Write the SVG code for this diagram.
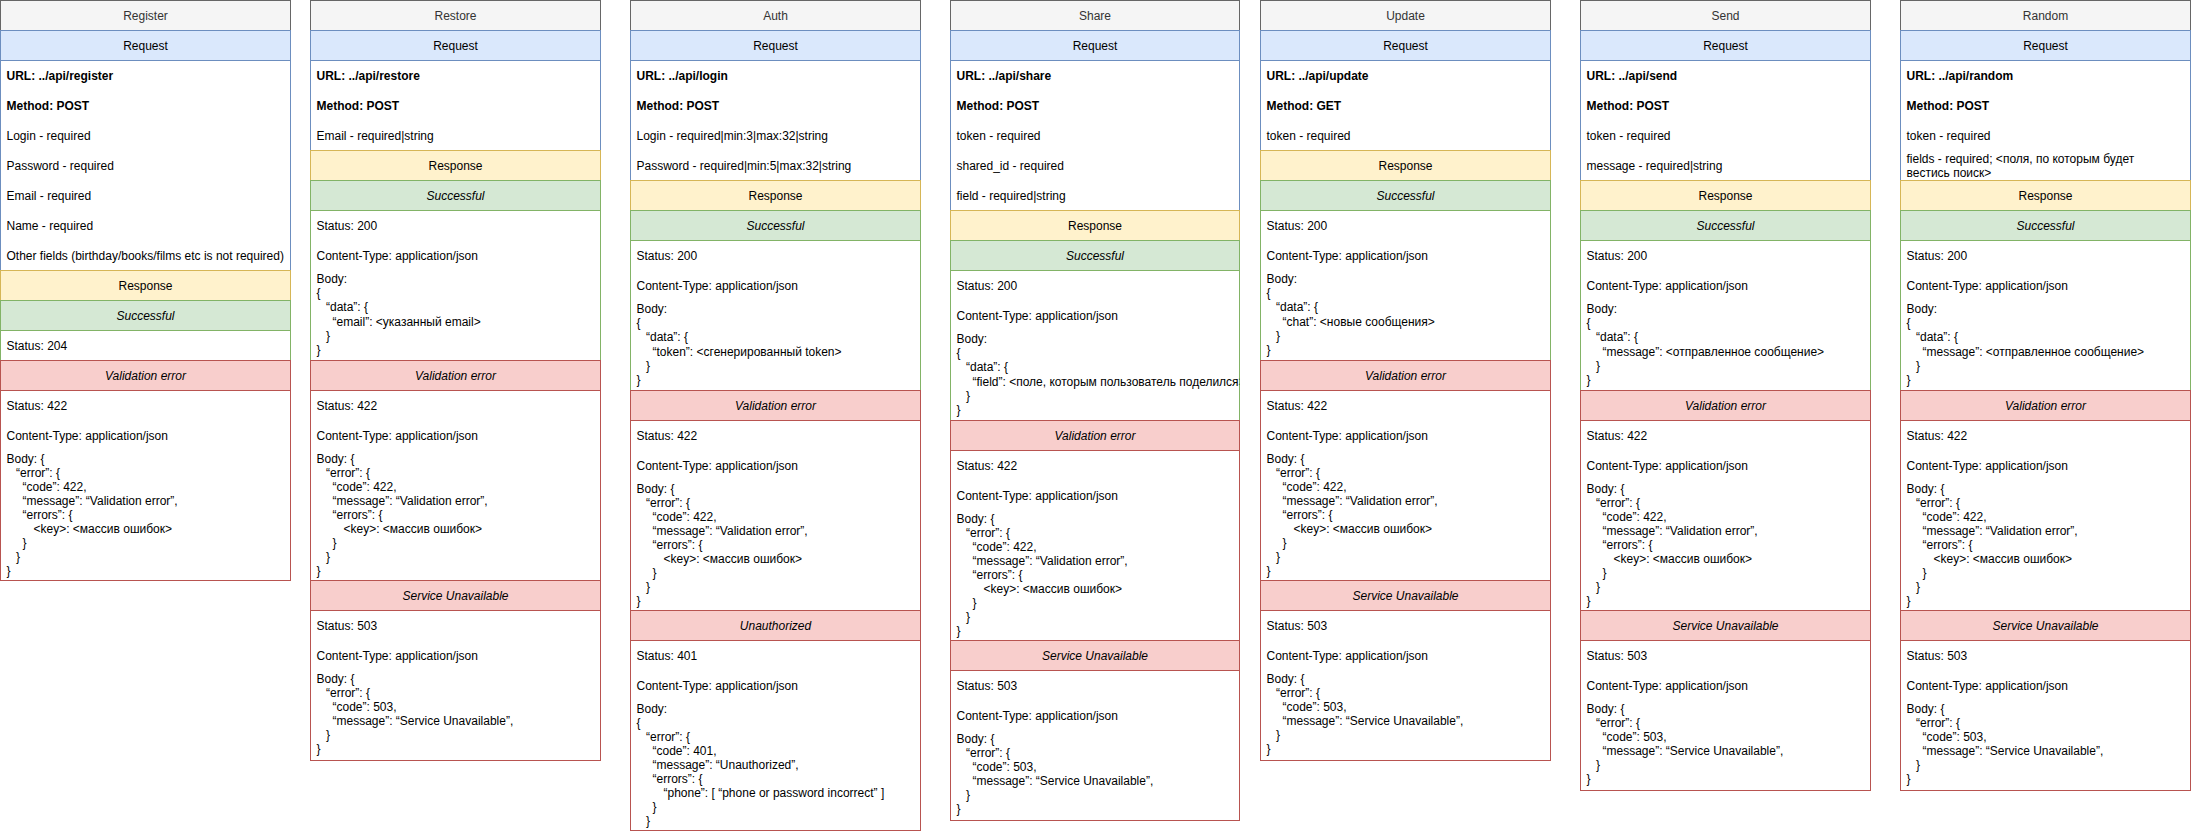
<svg xmlns="http://www.w3.org/2000/svg" width="2191" height="831" viewBox="0 0 2191 831">
<style>
text{font-family:"Liberation Sans",Arial,Helvetica,sans-serif;font-size:12px;fill:#000000}
.c{text-anchor:middle}
.i{font-style:italic}
.b{font-weight:bold}
.hd{fill:#333333}
rect{stroke-width:1}
.ttl{fill:#f5f5f5;stroke:#666666}
.rq{fill:#dae8fc;stroke:#6c8ebf}
.rqb{fill:#ffffff;stroke:#6c8ebf}
.rs{fill:#fff2cc;stroke:#d6b656}
.ok{fill:#d5e8d4;stroke:#82b366}
.okb{fill:#ffffff;stroke:#82b366}
.er{fill:#f8cecc;stroke:#b85450}
.erb{fill:#ffffff;stroke:#b85450}
</style>
<defs>
<clipPath id="shareClip"><rect x="0" y="270" width="289" height="150"/></clipPath>
</defs>
<rect x="0" y="0" width="2191" height="831" fill="#ffffff"/>
<g id="connectors"/>

<g id="register" transform="translate(0.5,0)">
<rect class="ttl" x="0" y="0.5" width="290" height="30"/><text class="c hd" x="145" y="20">Register</text>
<rect class="rq" x="0" y="30.5" width="290" height="30"/><text class="c" x="145" y="50">Request</text>
<rect class="rqb" x="0" y="60.5" width="290" height="210"/>
<text class="b" x="6" y="80">URL: ../api/register</text>
<text class="b" x="6" y="110">Method: POST</text>
<text x="6" y="140">Login - required</text>
<text x="6" y="170">Password - required</text>
<text x="6" y="200">Email - required</text>
<text x="6" y="230">Name - required</text>
<text x="6" y="260">Other fields (birthday/books/films etc is not required)</text>
<rect class="rs" x="0" y="270.5" width="290" height="30"/><text class="c" x="145" y="290">Response</text>
<rect class="ok" x="0" y="300.5" width="290" height="30"/><text class="c i" x="145" y="320">Successful</text>
<rect class="okb" x="0" y="330.5" width="290" height="30"/><text x="6" y="350">Status: 204</text>
<rect class="er" x="0" y="360.5" width="290" height="30"/><text class="c i" x="145" y="380">Validation error</text>
<rect class="erb" x="0" y="390.5" width="290" height="190"/>
<text x="6" y="410">Status: 422</text>
<text x="6" y="440">Content-Type: application/json</text>
<text x="6" y="463">Body: {</text>
<text x="15.5" y="477">“error”: {</text>
<text x="22" y="491">“code”: 422,</text>
<text x="22" y="505">“message”: “Validation error”,</text>
<text x="22" y="519">“errors”: {</text>
<text x="33" y="533">&lt;key&gt;: &lt;массив ошибок&gt;</text>
<text x="22" y="547">}</text>
<text x="15.5" y="561">}</text>
<text x="6" y="575">}</text>
</g>

<g id="restore" transform="translate(310.5,0)">
<rect class="ttl" x="0" y="0.5" width="290" height="30"/><text class="c hd" x="145" y="20">Restore</text>
<rect class="rq" x="0" y="30.5" width="290" height="30"/><text class="c" x="145" y="50">Request</text>
<rect class="rqb" x="0" y="60.5" width="290" height="90"/>
<text class="b" x="6" y="80">URL: ../api/restore</text>
<text class="b" x="6" y="110">Method: POST</text>
<text x="6" y="140">Email - required|string</text>
<rect class="rs" x="0" y="150.5" width="290" height="30"/><text class="c" x="145" y="170">Response</text>
<rect class="ok" x="0" y="180.5" width="290" height="30"/><text class="c i" x="145" y="200">Successful</text>
<rect class="okb" x="0" y="210.5" width="290" height="150"/>
<text x="6" y="230">Status: 200</text>
<text x="6" y="260">Content-Type: application/json</text>
<text x="6" y="283">Body:</text>
<text x="6" y="297.2">{</text>
<text x="15.5" y="311.4">“data”: {</text>
<text x="22" y="325.6">“email”: &lt;указанный email&gt;</text>
<text x="15.5" y="339.8">}</text>
<text x="6" y="354">}</text>
<rect class="er" x="0" y="360.5" width="290" height="30"/><text class="c i" x="145" y="380">Validation error</text>
<rect class="erb" x="0" y="390.5" width="290" height="190"/>
<text x="6" y="410">Status: 422</text>
<text x="6" y="440">Content-Type: application/json</text>
<text x="6" y="463">Body: {</text>
<text x="15.5" y="477">“error”: {</text>
<text x="22" y="491">“code”: 422,</text>
<text x="22" y="505">“message”: “Validation error”,</text>
<text x="22" y="519">“errors”: {</text>
<text x="33" y="533">&lt;key&gt;: &lt;массив ошибок&gt;</text>
<text x="22" y="547">}</text>
<text x="15.5" y="561">}</text>
<text x="6" y="575">}</text>
<rect class="er" x="0" y="580.5" width="290" height="30"/><text class="c i" x="145" y="600">Service Unavailable</text>
<rect class="erb" x="0" y="610.5" width="290" height="150"/>
<text x="6" y="630">Status: 503</text>
<text x="6" y="660">Content-Type: application/json</text>
<text x="6" y="683">Body: {</text>
<text x="15.5" y="697">“error”: {</text>
<text x="22" y="711">“code”: 503,</text>
<text x="22" y="725">“message”: “Service Unavailable”,</text>
<text x="15.5" y="739">}</text>
<text x="6" y="753">}</text>
</g>

<g id="auth" transform="translate(630.5,0)">
<rect class="ttl" x="0" y="0.5" width="290" height="30"/><text class="c hd" x="145" y="20">Auth</text>
<rect class="rq" x="0" y="30.5" width="290" height="30"/><text class="c" x="145" y="50">Request</text>
<rect class="rqb" x="0" y="60.5" width="290" height="120"/>
<text class="b" x="6" y="80">URL: ../api/login</text>
<text class="b" x="6" y="110">Method: POST</text>
<text x="6" y="140">Login - required|min:3|max:32|string</text>
<text x="6" y="170">Password - required|min:5|max:32|string</text>
<rect class="rs" x="0" y="180.5" width="290" height="30"/><text class="c" x="145" y="200">Response</text>
<rect class="ok" x="0" y="210.5" width="290" height="30"/><text class="c i" x="145" y="230">Successful</text>
<rect class="okb" x="0" y="240.5" width="290" height="150"/>
<text x="6" y="260">Status: 200</text>
<text x="6" y="290">Content-Type: application/json</text>
<text x="6" y="313">Body:</text>
<text x="6" y="327.2">{</text>
<text x="15.5" y="341.4">“data”: {</text>
<text x="22" y="355.6">“token”: &lt;сгенерированный token&gt;</text>
<text x="15.5" y="369.8">}</text>
<text x="6" y="384">}</text>
<rect class="er" x="0" y="390.5" width="290" height="30"/><text class="c i" x="145" y="410">Validation error</text>
<rect class="erb" x="0" y="420.5" width="290" height="190"/>
<text x="6" y="440">Status: 422</text>
<text x="6" y="470">Content-Type: application/json</text>
<text x="6" y="493">Body: {</text>
<text x="15.5" y="507">“error”: {</text>
<text x="22" y="521">“code”: 422,</text>
<text x="22" y="535">“message”: “Validation error”,</text>
<text x="22" y="549">“errors”: {</text>
<text x="33" y="563">&lt;key&gt;: &lt;массив ошибок&gt;</text>
<text x="22" y="577">}</text>
<text x="15.5" y="591">}</text>
<text x="6" y="605">}</text>
<rect class="er" x="0" y="610.5" width="290" height="30"/><text class="c i" x="145" y="630">Unauthorized</text>
<rect class="erb" x="0" y="640.5" width="290" height="190"/>
<text x="6" y="660">Status: 401</text>
<text x="6" y="690">Content-Type: application/json</text>
<text x="6" y="713">Body:</text>
<text x="6" y="727">{</text>
<text x="15.5" y="741">“error”: {</text>
<text x="22" y="755">“code”: 401,</text>
<text x="22" y="769">“message”: “Unauthorized”,</text>
<text x="22" y="783">“errors”: {</text>
<text x="33" y="797">“phone”: [ “phone or password incorrect” ]</text>
<text x="22" y="811">}</text>
<text x="15.5" y="825">}</text>
</g>

<g id="share" transform="translate(950.5,0)">
<rect class="ttl" x="0" y="0.5" width="289" height="30"/><text class="c hd" x="144.5" y="20">Share</text>
<rect class="rq" x="0" y="30.5" width="289" height="30"/><text class="c" x="144.5" y="50">Request</text>
<rect class="rqb" x="0" y="60.5" width="289" height="150"/>
<text class="b" x="6" y="80">URL: ../api/share</text>
<text class="b" x="6" y="110">Method: POST</text>
<text x="6" y="140">token - required</text>
<text x="6" y="170">shared_id - required</text>
<text x="6" y="200">field - required|string</text>
<rect class="rs" x="0" y="210.5" width="289" height="30"/><text class="c" x="144.5" y="230">Response</text>
<rect class="ok" x="0" y="240.5" width="289" height="30"/><text class="c i" x="144.5" y="260">Successful</text>
<rect class="okb" x="0" y="270.5" width="289" height="150"/>
<text x="6" y="290">Status: 200</text>
<text x="6" y="320">Content-Type: application/json</text>
<text x="6" y="343">Body:</text>
<text x="6" y="357.2">{</text>
<text x="15.5" y="371.4">“data”: {</text>
<text x="22" y="385.6" clip-path="url(#shareClip)">“field”: &lt;поле, которым пользователь поделился&gt;</text>
<text x="15.5" y="399.8">}</text>
<text x="6" y="414">}</text>
<rect class="er" x="0" y="420.5" width="289" height="30"/><text class="c i" x="144.5" y="440">Validation error</text>
<rect class="erb" x="0" y="450.5" width="289" height="190"/>
<text x="6" y="470">Status: 422</text>
<text x="6" y="500">Content-Type: application/json</text>
<text x="6" y="523">Body: {</text>
<text x="15.5" y="537">“error”: {</text>
<text x="22" y="551">“code”: 422,</text>
<text x="22" y="565">“message”: “Validation error”,</text>
<text x="22" y="579">“errors”: {</text>
<text x="33" y="593">&lt;key&gt;: &lt;массив ошибок&gt;</text>
<text x="22" y="607">}</text>
<text x="15.5" y="621">}</text>
<text x="6" y="635">}</text>
<rect class="er" x="0" y="640.5" width="289" height="30"/><text class="c i" x="144.5" y="660">Service Unavailable</text>
<rect class="erb" x="0" y="670.5" width="289" height="150"/>
<text x="6" y="690">Status: 503</text>
<text x="6" y="720">Content-Type: application/json</text>
<text x="6" y="743">Body: {</text>
<text x="15.5" y="757">“error”: {</text>
<text x="22" y="771">“code”: 503,</text>
<text x="22" y="785">“message”: “Service Unavailable”,</text>
<text x="15.5" y="799">}</text>
<text x="6" y="813">}</text>
</g>

<g id="update" transform="translate(1260.5,0)">
<rect class="ttl" x="0" y="0.5" width="290" height="30"/><text class="c hd" x="145" y="20">Update</text>
<rect class="rq" x="0" y="30.5" width="290" height="30"/><text class="c" x="145" y="50">Request</text>
<rect class="rqb" x="0" y="60.5" width="290" height="90"/>
<text class="b" x="6" y="80">URL: ../api/update</text>
<text class="b" x="6" y="110">Method: GET</text>
<text x="6" y="140">token - required</text>
<rect class="rs" x="0" y="150.5" width="290" height="30"/><text class="c" x="145" y="170">Response</text>
<rect class="ok" x="0" y="180.5" width="290" height="30"/><text class="c i" x="145" y="200">Successful</text>
<rect class="okb" x="0" y="210.5" width="290" height="150"/>
<text x="6" y="230">Status: 200</text>
<text x="6" y="260">Content-Type: application/json</text>
<text x="6" y="283">Body:</text>
<text x="6" y="297.2">{</text>
<text x="15.5" y="311.4">“data”: {</text>
<text x="22" y="325.6">“chat”: &lt;новые сообщения&gt;</text>
<text x="15.5" y="339.8">}</text>
<text x="6" y="354">}</text>
<rect class="er" x="0" y="360.5" width="290" height="30"/><text class="c i" x="145" y="380">Validation error</text>
<rect class="erb" x="0" y="390.5" width="290" height="190"/>
<text x="6" y="410">Status: 422</text>
<text x="6" y="440">Content-Type: application/json</text>
<text x="6" y="463">Body: {</text>
<text x="15.5" y="477">“error”: {</text>
<text x="22" y="491">“code”: 422,</text>
<text x="22" y="505">“message”: “Validation error”,</text>
<text x="22" y="519">“errors”: {</text>
<text x="33" y="533">&lt;key&gt;: &lt;массив ошибок&gt;</text>
<text x="22" y="547">}</text>
<text x="15.5" y="561">}</text>
<text x="6" y="575">}</text>
<rect class="er" x="0" y="580.5" width="290" height="30"/><text class="c i" x="145" y="600">Service Unavailable</text>
<rect class="erb" x="0" y="610.5" width="290" height="150"/>
<text x="6" y="630">Status: 503</text>
<text x="6" y="660">Content-Type: application/json</text>
<text x="6" y="683">Body: {</text>
<text x="15.5" y="697">“error”: {</text>
<text x="22" y="711">“code”: 503,</text>
<text x="22" y="725">“message”: “Service Unavailable”,</text>
<text x="15.5" y="739">}</text>
<text x="6" y="753">}</text>
</g>

<g id="send" transform="translate(1580.5,0)">
<rect class="ttl" x="0" y="0.5" width="290" height="30"/><text class="c hd" x="145" y="20">Send</text>
<rect class="rq" x="0" y="30.5" width="290" height="30"/><text class="c" x="145" y="50">Request</text>
<rect class="rqb" x="0" y="60.5" width="290" height="120"/>
<text class="b" x="6" y="80">URL: ../api/send</text>
<text class="b" x="6" y="110">Method: POST</text>
<text x="6" y="140">token - required</text>
<text x="6" y="170">message - required|string</text>
<rect class="rs" x="0" y="180.5" width="290" height="30"/><text class="c" x="145" y="200">Response</text>
<rect class="ok" x="0" y="210.5" width="290" height="30"/><text class="c i" x="145" y="230">Successful</text>
<rect class="okb" x="0" y="240.5" width="290" height="150"/>
<text x="6" y="260">Status: 200</text>
<text x="6" y="290">Content-Type: application/json</text>
<text x="6" y="313">Body:</text>
<text x="6" y="327.2">{</text>
<text x="15.5" y="341.4">“data”: {</text>
<text x="22" y="355.6">“message”: &lt;отправленное сообщение&gt;</text>
<text x="15.5" y="369.8">}</text>
<text x="6" y="384">}</text>
<rect class="er" x="0" y="390.5" width="290" height="30"/><text class="c i" x="145" y="410">Validation error</text>
<rect class="erb" x="0" y="420.5" width="290" height="190"/>
<text x="6" y="440">Status: 422</text>
<text x="6" y="470">Content-Type: application/json</text>
<text x="6" y="493">Body: {</text>
<text x="15.5" y="507">“error”: {</text>
<text x="22" y="521">“code”: 422,</text>
<text x="22" y="535">“message”: “Validation error”,</text>
<text x="22" y="549">“errors”: {</text>
<text x="33" y="563">&lt;key&gt;: &lt;массив ошибок&gt;</text>
<text x="22" y="577">}</text>
<text x="15.5" y="591">}</text>
<text x="6" y="605">}</text>
<rect class="er" x="0" y="610.5" width="290" height="30"/><text class="c i" x="145" y="630">Service Unavailable</text>
<rect class="erb" x="0" y="640.5" width="290" height="150"/>
<text x="6" y="660">Status: 503</text>
<text x="6" y="690">Content-Type: application/json</text>
<text x="6" y="713">Body: {</text>
<text x="15.5" y="727">“error”: {</text>
<text x="22" y="741">“code”: 503,</text>
<text x="22" y="755">“message”: “Service Unavailable”,</text>
<text x="15.5" y="769">}</text>
<text x="6" y="783">}</text>
</g>

<g id="random" transform="translate(1900.5,0)">
<rect class="ttl" x="0" y="0.5" width="290" height="30"/><text class="c hd" x="145" y="20">Random</text>
<rect class="rq" x="0" y="30.5" width="290" height="30"/><text class="c" x="145" y="50">Request</text>
<rect class="rqb" x="0" y="60.5" width="290" height="120"/>
<text class="b" x="6" y="80">URL: ../api/random</text>
<text class="b" x="6" y="110">Method: POST</text>
<text x="6" y="140">token - required</text>
<text x="6" y="163">fields - required; &lt;поля, по которым будет</text>
<text x="6" y="177">вестись поиск&gt;</text>
<rect class="rs" x="0" y="180.5" width="290" height="30"/><text class="c" x="145" y="200">Response</text>
<rect class="ok" x="0" y="210.5" width="290" height="30"/><text class="c i" x="145" y="230">Successful</text>
<rect class="okb" x="0" y="240.5" width="290" height="150"/>
<text x="6" y="260">Status: 200</text>
<text x="6" y="290">Content-Type: application/json</text>
<text x="6" y="313">Body:</text>
<text x="6" y="327.2">{</text>
<text x="15.5" y="341.4">“data”: {</text>
<text x="22" y="355.6">“message”: &lt;отправленное сообщение&gt;</text>
<text x="15.5" y="369.8">}</text>
<text x="6" y="384">}</text>
<rect class="er" x="0" y="390.5" width="290" height="30"/><text class="c i" x="145" y="410">Validation error</text>
<rect class="erb" x="0" y="420.5" width="290" height="190"/>
<text x="6" y="440">Status: 422</text>
<text x="6" y="470">Content-Type: application/json</text>
<text x="6" y="493">Body: {</text>
<text x="15.5" y="507">“error”: {</text>
<text x="22" y="521">“code”: 422,</text>
<text x="22" y="535">“message”: “Validation error”,</text>
<text x="22" y="549">“errors”: {</text>
<text x="33" y="563">&lt;key&gt;: &lt;массив ошибок&gt;</text>
<text x="22" y="577">}</text>
<text x="15.5" y="591">}</text>
<text x="6" y="605">}</text>
<rect class="er" x="0" y="610.5" width="290" height="30"/><text class="c i" x="145" y="630">Service Unavailable</text>
<rect class="erb" x="0" y="640.5" width="290" height="150"/>
<text x="6" y="660">Status: 503</text>
<text x="6" y="690">Content-Type: application/json</text>
<text x="6" y="713">Body: {</text>
<text x="15.5" y="727">“error”: {</text>
<text x="22" y="741">“code”: 503,</text>
<text x="22" y="755">“message”: “Service Unavailable”,</text>
<text x="15.5" y="769">}</text>
<text x="6" y="783">}</text>
</g>
</svg>
